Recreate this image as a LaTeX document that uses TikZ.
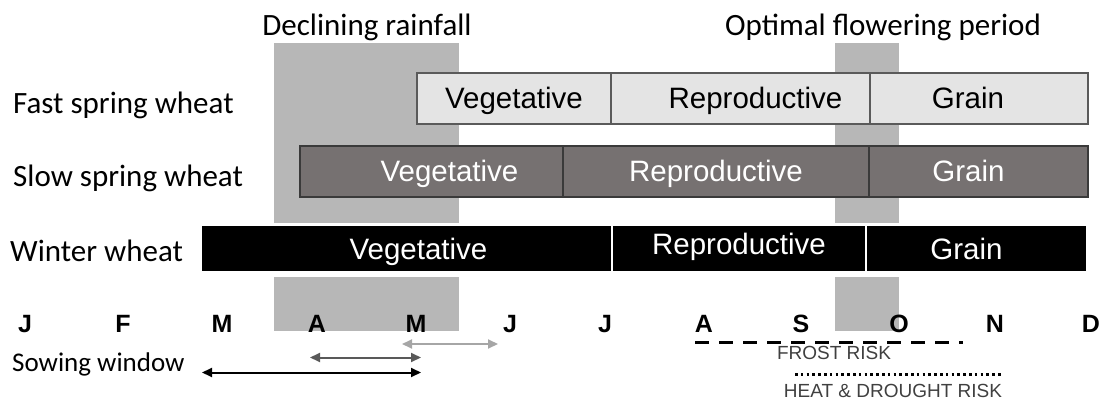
\documentclass[tikz,border=0pt]{standalone}
\usepackage{fontspec}
\setmainfont{Carlito}
\newfontfamily\arialfont{Liberation Sans}
\usetikzlibrary{arrows.meta}

\definecolor{bandgray}{HTML}{B7B7B7}
\definecolor{fastfill}{HTML}{E4E4E4}
\definecolor{fastline}{HTML}{5A5A5A}
\definecolor{slowfill}{HTML}{767171}
\definecolor{slowline}{HTML}{3A3A3A}
\definecolor{riskgray}{HTML}{404040}
\definecolor{lightarrow}{HTML}{A6A6A6}
\definecolor{midarrow}{HTML}{595959}

\begin{document}
\begin{tikzpicture}[x=1pt,y=-1pt,>={Triangle[length=10pt,width=9pt]},
 band/.style={fill=bandgray,draw=none},
 head/.style={font=\fontsize{31}{31}\selectfont,inner sep=0pt,text height=20pt,text depth=0pt},
 rowlbl/.style={head,anchor=west},
 seg/.style={inner sep=0pt,font=\arialfont\fontsize{29.5}{29.5}\selectfont,text height=21pt,text depth=0pt},
 fastseg/.style={seg,draw=fastline,line width=1.5pt,fill=fastfill,minimum height=51pt,text=black},
 slowseg/.style={seg,draw=slowline,line width=1.5pt,fill=slowfill,minimum height=51pt,text=white},
 winterseg/.style={seg,draw=white,line width=1.2pt,fill=black,minimum height=47pt,text=white},
 month/.style={font=\arialfont\bfseries\fontsize{25}{25}\selectfont,inner sep=0pt,text height=18pt,text depth=0pt},
 sowing/.style={<->,line width=2pt},
 risk/.style={font=\arialfont\fontsize{19}{19}\selectfont,text=riskgray,inner sep=0pt,text height=13.6pt,text depth=0pt}]
\useasboundingbox (0,0) rectangle (1101,401);
% shaded periods
\fill[band] (274,43) rectangle (459,223);
\fill[band] (274,277) rectangle (459,331);
\fill[band] (835,43) rectangle (899,223);
\fill[band] (835,277) rectangle (899,331);
\node[head] (rain) at (367,26) {Declining rainfall};
\node[head] (flower) at (883,26) {Optimal flowering period};
% row labels
\node[rowlbl] (fastlbl) at (13,104) {Fast spring wheat};
\node[rowlbl] (slowlbl) at (13,176.5) {Slow spring wheat};
\node[rowlbl] (winterlbl) at (10,251.3) {Winter wheat};
% fast spring wheat
\node[fastseg,minimum width=194pt] (fveg) at (514,98.5) {Vegetative};
\node[fastseg,minimum width=259pt] (frep) at (740.5,98.5) {\hspace*{30pt}Reproductive};
\node[fastseg,minimum width=218pt] (fgrain) at (979,98.5) {Grain\hspace*{22pt}};
% slow spring wheat
\node[slowseg,minimum width=263pt] (sveg) at (431.5,171.5) {\hspace*{36pt}Vegetative};
\node[slowseg,minimum width=306pt] (srep) at (716,171.5) {Reproductive};
\node[slowseg,minimum width=219pt] (sgrain) at (978.5,171.5) {Grain\hspace*{20pt}};
% winter wheat
\node[winterseg,minimum width=411pt] (wveg) at (406.5,248.5) {\hspace*{24pt}Vegetative};
\node[winterseg,minimum width=254pt] (wrep) at (739,248.5) {\raisebox{5pt}{Reproductive}};
\node[winterseg,minimum width=221pt] (wgrain) at (976.5,248.5) {Grain\hspace*{20pt}};
% months
\foreach \m/\x [count=\i] in {J/25,F/123,M/222,A/317,M/416,J/510,J/605,A/704,S/801,O/899,N/995,D/1091}
  \node[month] (m\i) at (\x,323) {\m};
% sowing windows
\node[rowlbl,font=\fontsize{27}{27}\selectfont,text height=17.4pt] (sowlbl) at (12,363) {Sowing window};
\coordinate (fs1) at (402,344);
\coordinate (fs2) at (498,344);
\coordinate (ss1) at (310,357.5);
\coordinate (ss2) at (421,357.5);
\coordinate (ws1) at (202,372.5);
\coordinate (ws2) at (421,372.5);
\draw[sowing,lightarrow] (fs1) -- (fs2);
\draw[sowing,midarrow] (ss1) -- (ss2);
\draw[sowing,black] (ws1) -- (ws2);
% risks
\coordinate (fr1) at (695,342.5);
\coordinate (fr2) at (963,342.5);
\draw[line width=3.5pt,dash pattern=on 14pt off 10pt] (fr1) -- (fr2);
\node[risk] (frost) at (834,353) {FROST RISK};
\coordinate (hd1) at (795,374);
\coordinate (hd2) at (1002,374);
\draw[line width=3pt,dash pattern=on 2.5pt off 3.3pt] (hd1) -- (hd2);
\node[risk] (heat) at (893,390.5) {HEAT \& DROUGHT RISK};
\end{tikzpicture}
\end{document}
